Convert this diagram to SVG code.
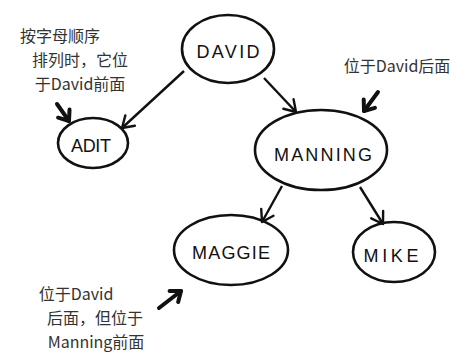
<svg xmlns="http://www.w3.org/2000/svg" width="456" height="360" viewBox="0 0 456 360">
<style>
.node{fill:none;stroke:#111;stroke-width:2.6}
.lbl{font-family:"Liberation Sans","DejaVu Sans",sans-serif;font-size:18px;fill:#111;text-anchor:middle}
.edge{fill:none;stroke:#111;stroke-width:2.4;marker-end:url(#head)}
.note-arrow{fill:none;stroke:#111;stroke-width:4;stroke-linecap:round;marker-end:url(#bighead)}
.note{font-family:"Noto Sans CJK SC","DejaVu Sans",sans-serif;font-size:16px;fill:#333;text-anchor:middle}
</style>
<defs>
<marker id="head" markerUnits="userSpaceOnUse" markerWidth="20" markerHeight="20" refX="0" refY="0" viewBox="-14 -10 18 20" orient="auto" overflow="visible">
<path d="M-11,-7 L0,0 L-11,7" fill="none" stroke="#111" stroke-width="2.4" stroke-linecap="round" stroke-linejoin="round"/>
</marker>
<marker id="bighead" markerUnits="userSpaceOnUse" markerWidth="20" markerHeight="20" refX="0" refY="0" viewBox="-14 -10 18 20" orient="auto" overflow="visible">
<path d="M-9,-7 L0,0 L-9,7" fill="none" stroke="#111" stroke-width="4" stroke-linecap="round" stroke-linejoin="round"/>
</marker>
</defs>

<g id="connectors">
<line class="edge" x1="184" y1="71" x2="122" y2="128"/>
<line class="edge" x1="264" y1="78" x2="296" y2="112"/>
<line class="edge" x1="282" y1="186" x2="262" y2="222"/>
<line class="edge" x1="360" y1="187" x2="383" y2="224"/>
<line class="note-arrow" x1="57" y1="104" x2="69" y2="121"/>
<line class="note-arrow" x1="378" y1="92" x2="364" y2="111"/>
<line class="note-arrow" x1="159" y1="308" x2="181" y2="291"/>
</g>

<g id="node-david">
<ellipse class="node" cx="228" cy="49" rx="46" ry="34"/>
<text class="lbl" x="228" y="58" font-size="20" textLength="63" lengthAdjust="spacing">DAVID</text>
</g>
<g id="node-adit">
<ellipse class="node" cx="93" cy="143" rx="35" ry="25"/>
<text class="lbl" x="91" y="152" font-size="17" textLength="40" lengthAdjust="spacing">ADIT</text>
</g>
<g id="node-manning">
<ellipse class="node" cx="321" cy="150" rx="66" ry="40"/>
<text class="lbl" x="323" y="161" textLength="98" lengthAdjust="spacing">MANNING</text>
</g>
<g id="node-maggie">
<ellipse class="node" cx="231" cy="250" rx="57" ry="35"/>
<text class="lbl" x="231" y="259" textLength="78" lengthAdjust="spacing">MAGGIE</text>
</g>
<g id="node-mike">
<ellipse class="node" cx="394" cy="252" rx="41" ry="30"/>
<text class="lbl" x="391" y="262" textLength="55" lengthAdjust="spacing">MIKE</text>
</g>

<g id="note-adit">
<text class="note" x="60" y="42">按字母顺序</text>
<text class="note" x="80" y="66">排列时，它位</text>
<text class="note" x="80" y="90">于David前面</text>
</g>
<g id="note-manning">
<text class="note" x="397" y="72">位于David后面</text>
</g>
<g id="note-maggie">
<text class="note" x="76" y="300">位于David</text>
<text class="note" x="95" y="324">后面，但位于</text>
<text class="note" x="96" y="348">Manning前面</text>
</g>
</svg>
